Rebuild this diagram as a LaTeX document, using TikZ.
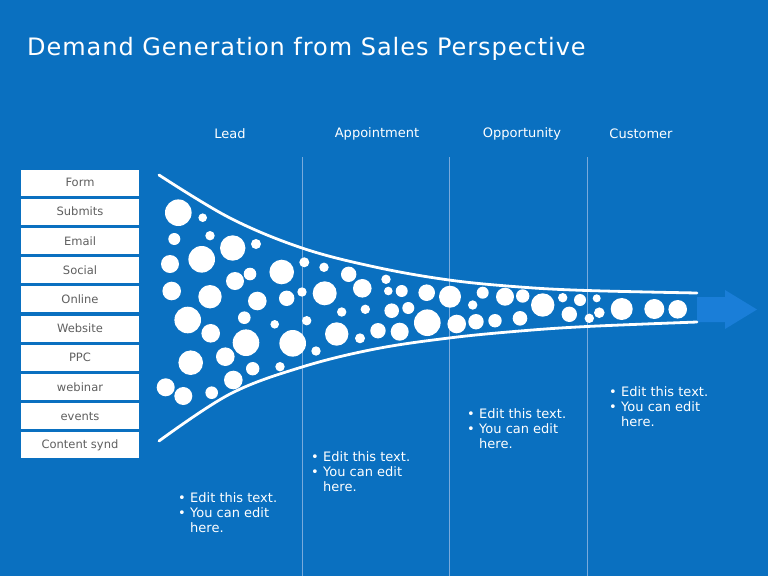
\documentclass[tikz,border=0pt]{standalone}
\usepackage{fontspec}
\setmainfont{DejaVu Sans}
\definecolor{bgblue}{RGB}{10,112,192}
\definecolor{arrowblue}{RGB}{26,126,216}
\definecolor{sepline}{RGB}{120,170,220}
\definecolor{boxtext}{RGB}{95,95,95}
\newcommand{\bul}{\makebox[12pt][l]{\textbullet}}
\newcommand{\notetext}{\bul Edit this text.\\\bul You can edit\\\makebox[12pt][l]{}here.}
\begin{document}
\begin{tikzpicture}[x=1pt,y=-1pt,
  srcbox/.style={draw=none,fill=white,minimum width=118pt,minimum height=26pt,inner sep=0pt,text=boxtext,font=\fontsize{11.5}{13}\selectfont},
  header/.style={text=white,font=\fontsize{13}{15}\selectfont},
  note/.style={text=white,font=\fontsize{13}{15}\selectfont,anchor=north west,inner sep=0pt,align=left},
  funnel/.style={draw=white,line width=2.8pt,line cap=round},
  bubble/.style={fill=white},
  sep/.style={draw=sepline,line width=0.8pt}]
\fill[bgblue] (0,0) rectangle (768,576);
\useasboundingbox (0,0) rectangle (768,576);
% title
\node[anchor=base west,text=white,inner sep=0pt,font=\fontsize{24}{28}\selectfont\addfontfeature{LetterSpace=4}] (title) at (27,55) {Demand Generation from Sales Perspective};
% headers
\node[header] (hLead) at (230,134) {Lead};
\node[header] (hAppt) at (377,134) {Appointment};
\node[header] (hOpp) at (522,134) {Opportunity};
\node[header] (hCust) at (641,134) {Customer};
% separators
\coordinate (s1t) at (302,157); \coordinate (s1b) at (302,576);
\coordinate (s2t) at (449,157); \coordinate (s2b) at (449,576);
\coordinate (s3t) at (587,157); \coordinate (s3b) at (587,576);
\draw[sep] (s1t) -- (s1b);
\draw[sep] (s2t) -- (s2b);
\draw[sep] (s3t) -- (s3b);
% source boxes
\node[srcbox] (b1) at (80,182.5) {Form};
\node[srcbox] (b2) at (80,211.7) {Submits};
\node[srcbox] (b3) at (80,240.9) {Email};
\node[srcbox] (b4) at (80,270.1) {Social};
\node[srcbox] (b5) at (80,299.3) {Online};
\node[srcbox] (b6) at (80,328.5) {Website};
\node[srcbox] (b7) at (80,357.7) {PPC};
\node[srcbox] (b8) at (80,386.9) {webinar};
\node[srcbox] (b9) at (80,416.1) {events};
\node[srcbox] (b10) at (80,445.3) {Content synd};
% arrow
\fill[arrowblue] (697,297) -- (725,297) -- (725,290) -- (757,309.5) -- (725,329) -- (725,322) -- (697,322) -- cycle;
% funnel curves
\draw[funnel] plot[smooth,tension=0.6] coordinates {(159,175) (230,218) (302,248) (375,267) (449,280) (520,287) (587,290.5) (697,293)};
\draw[funnel] plot[smooth,tension=0.6] coordinates {(159,441) (230,394) (302,367) (375,349) (449,338) (520,331) (587,326.5) (697,322)};
% bubbles
\foreach \x/\y/\r in {
178.3/212.7/13.3, 202.7/217.7/4.3, 174.3/239/6, 210/235.7/4.7, 232.7/248/12.7,
256/244/5, 201.7/259.3/13.3, 170/264/9, 235/281/9, 250/274/6.3,
281.7/272/12.3, 304.3/262.3/5, 324/267.3/4.7, 348.7/274.3/7.7, 362.3/288.3/9.3,
386/279.3/4.7, 388.3/291/4.3, 401.7/291/6, 426.7/292.7/8.3, 450/296.7/11,
171.7/291/9.3, 210/296.7/11.7, 257.3/301/9.3, 286.7/298.3/7.7, 302/292/4.7,
324.7/293.3/12, 187.7/320/13.3, 244.3/317.7/6.3, 274.7/324.3/4.3, 306.7/320.7/4.7,
341.7/312/4.7, 365.3/309.3/4.7, 391.7/310.7/7.3, 408.3/308/6, 427.3/322.7/13.3,
456.7/324/9.3, 210.7/333.3/9.3, 246/342.7/13.3, 292.7/343.3/13.3, 336.7/334/11.7,
360/338.3/5, 378/330.7/7.7, 399.7/331.7/9, 316/351/4.7, 190.7/362.7/12.3,
225.3/356.7/9.3, 252.7/368.7/6.7, 280/366.7/4.7, 233.3/380/9.3, 165.7/387.3/9,
183.3/396/9, 211.7/392.7/6.3,
482.7/292.7/6, 472.7/305/4.7, 505/296.7/9, 522.7/296/6.7, 542.7/305/11.7,
562.7/297.7/4.7, 580/300/6, 596.7/298.3/4, 621.7/309/11, 654.3/309/10,
677.7/309.3/9.3, 476/321.7/7.7, 495/320.7/6.7, 520/318.3/7.3, 569.3/314.3/7.7,
589.3/318.3/4.7, 599.3/312.7/5.3}
  \fill[bubble] (\x,\y) circle (\r);
% notes
\node[note] (n1) at (178,492.8) {\notetext};
\node[note] (n2) at (311,451) {\notetext};
\node[note] (n3) at (467,408.3) {\notetext};
\node[note] (n4) at (609,386) {\notetext};
\end{tikzpicture}
\end{document}
